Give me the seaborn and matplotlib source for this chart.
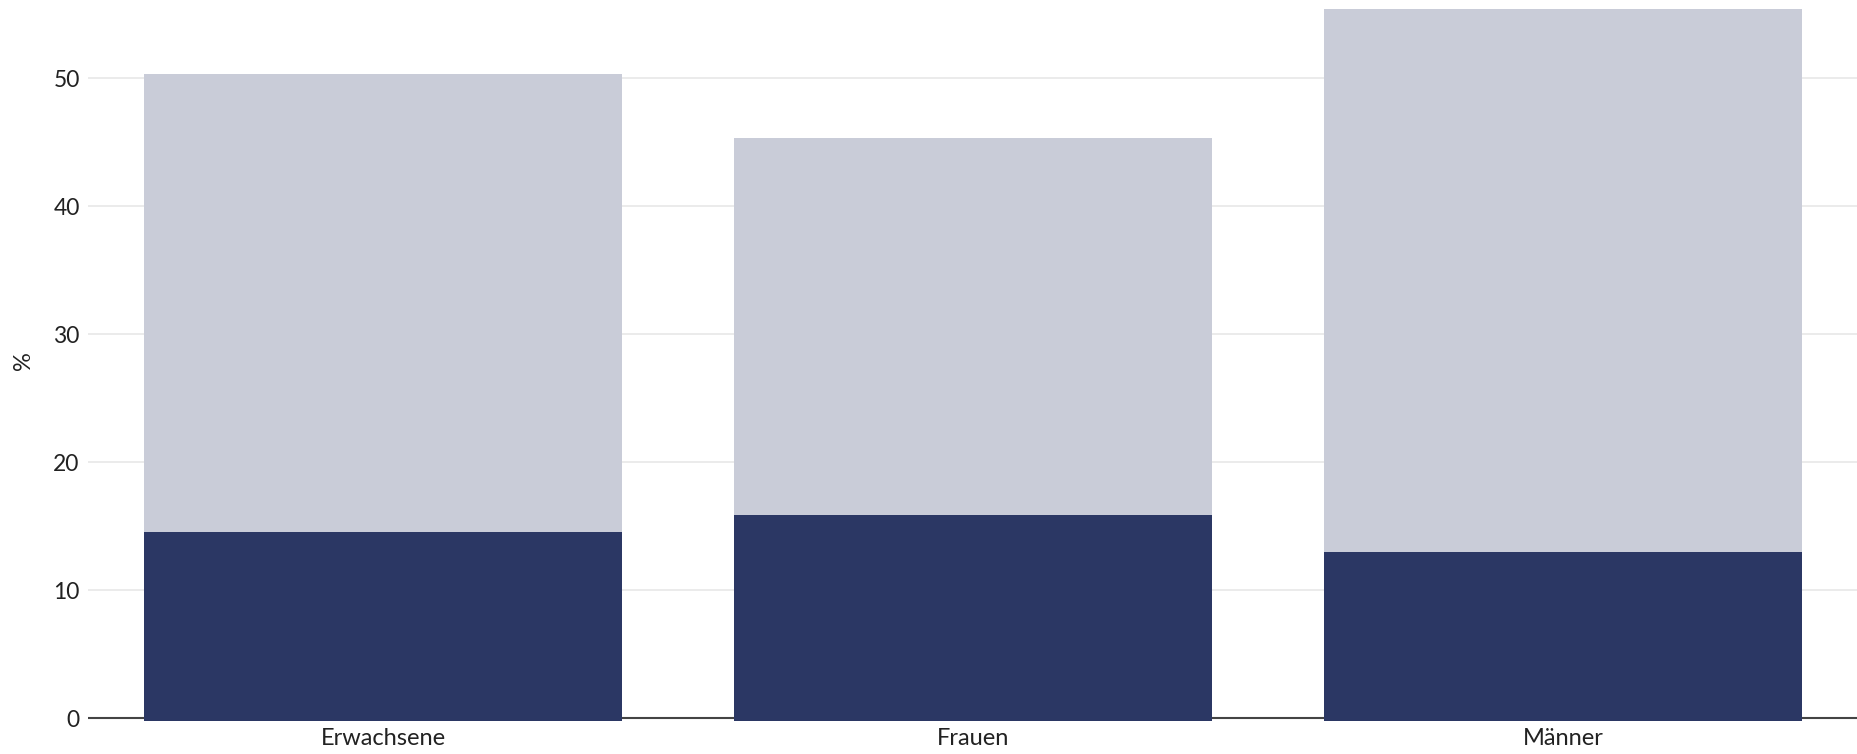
import pandas as pd
import matplotlib.pyplot as plt
import seaborn as sns

# values (percent)
categories = ['Erwachsene', 'Frauen', 'Männer']
total_values = [50.3, 45.3, 55.4]     # light bars (drawn from 0)
dark_values = [14.5, 15.9, 13.0]      # dark bars overlaid

df = pd.DataFrame({'Gruppe': categories, 'gesamt': total_values, 'dunkel': dark_values})

sns.set_theme(style='white')
plt.rcParams['font.family'] = ['Lato', 'DejaVu Sans']

fig = plt.figure(figsize=(18.58, 7.54), dpi=100)
ax = fig.add_axes([88 / 1858, 1 - 721.2 / 754, 1 - 88 / 1858, 721.2 / 754])

sns.barplot(data=df, x='Gruppe', y='gesamt', color='#c9ccd8', width=0.81,
            saturation=1, linewidth=0, ax=ax, zorder=2)
sns.barplot(data=df, x='Gruppe', y='dunkel', color='#2b3764', width=0.81,
            saturation=1, linewidth=0, ax=ax, zorder=3)
# bars start a hair below the zero line, as in the reference
for p in ax.patches:
    p.set_y(-0.25)
    p.set_height(p.get_height() + 0.25)

ax.set_xlim(-0.5, 2.5)
ax.set_ylim(-0.25, 56.1)
ax.set_yticks([0, 10, 20, 30, 40, 50])
ax.yaxis.grid(True, color='#e8e8e8', linewidth=1.2, zorder=0)
ax.axhline(0, color='#444444', linewidth=1.5, zorder=1)
for s in ax.spines.values():
    s.set_visible(False)

ax.set_xlabel('')
ax.set_ylabel('%', fontsize=17, labelpad=14, color='#222222')
ax.tick_params(axis='y', labelsize=16.5, pad=6, length=0, colors='#222222')
ax.tick_params(axis='x', labelsize=17, pad=5, length=0, colors='#222222')

fig.savefig('out.png', dpi=100)
